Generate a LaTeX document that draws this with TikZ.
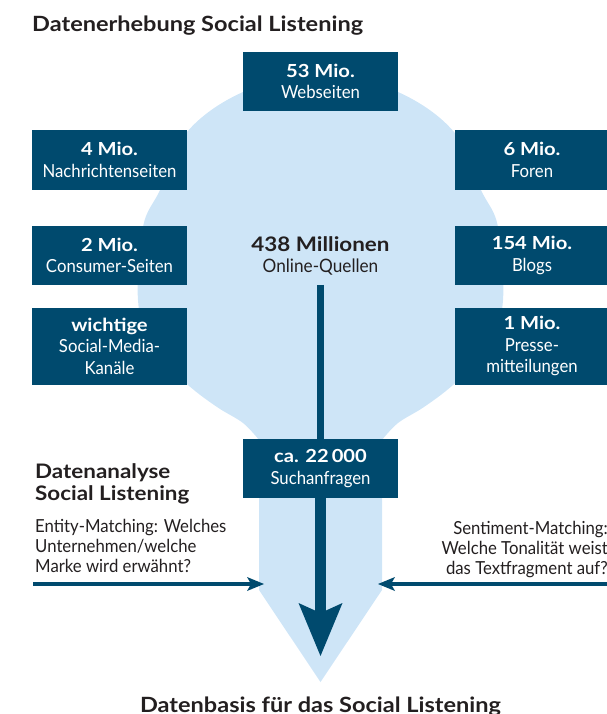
\documentclass[tikz,border=0pt]{standalone}
\usepackage{fontspec}
\setmainfont{Lato}[BoldFeatures={FakeStretch=1.12}]
\newfontfamily\schmal[FakeStretch=0.93]{Lato}
\usetikzlibrary{arrows.meta,positioning}
\definecolor{Dunkelblau}{RGB}{0,74,110}
\definecolor{Hellblau}{RGB}{206,229,247}
\definecolor{Schwarz}{RGB}{35,31,32}
\newcommand{\zahl}[1]{{\normalfont\bfseries #1}}

\begin{document}
\begin{tikzpicture}[x=1pt,y=-1pt,every node/.style={inner sep=0pt},
  quelle/.style={fill=Dunkelblau,text=white,align=center,minimum width=155pt,minimum height=59pt,font=\schmal\fontsize{18}{21.5}\selectfont},
  titel/.style={text=Schwarz,font=\bfseries\fontsize{20}{22.5}\selectfont},
  fliesstext/.style={text=Schwarz,font=\schmal\fontsize{18}{20}\selectfont},
  pfeil/.style={draw=Dunkelblau,line width=4.5pt,-{Stealth[length=17pt,width=14pt,inset=4pt,line width=0pt]}}]
\useasboundingbox (0,0) rectangle (607,714);
\fill[Hellblau] (259,590) -- plot[smooth,tension=0.6] coordinates {(259,440) (243,423) (217,407) (188,385) (152,350) (138,300) (143,227) (160,190) (187,132) (243,92) (320.5,72) (398,92) (454,132) (481,190) (498,227) (503,300) (489,350) (453,385) (424,407) (398,423) (382,440)} -- (382,590) -- (320.5,682) -- cycle;
\node[titel,anchor=base west,font=\bfseries\fontsize{21}{22.5}\selectfont] (TitelErhebung) at (32,32) {Datenerhebung Social Listening};
\node[quelle] (Webseiten) at (320.5,81.3) {\zahl{53 Mio.}\\Webseiten};
\node[quelle] (Nachrichten) at (109.5,160) {\zahl{4 Mio.}\\Nachrichtenseiten};
\node[quelle] (Foren) at (532,160) {\zahl{6 Mio.}\\Foren};
\node[quelle] (Consumer) at (109.5,255.3) {\zahl{2 Mio.}\\Consumer-Seiten};
\node[quelle] (Blogs) at (532,255.3) {\zahl{154 Mio.}\\Blogs};
\node[quelle,minimum height=77pt] (SocialMedia) at (109.5,346) {\zahl{wichtige}\\Social-Media-\\Kanäle};
\node[quelle,minimum height=77pt] (Presse) at (532,346) {\zahl{1 Mio.}\\Presse-\\mitteilungen};
\node[quelle] (Suchanfragen) at (320.5,468.4) {\zahl{ca. 22\,000}\\Suchanfragen};
\node[text=Schwarz,align=center,anchor=north,font=\schmal\fontsize{18.5}{21}\selectfont] (OnlineQuellen) at (320.5,236) {{\normalfont\bfseries\fontsize{20}{21}\selectfont 438 Millionen}\\Online-Quellen};
\node[titel,align=left,anchor=north west] (AnalyseTitel) at (35,463) {Datenanalyse\\Social Listening};
\node[fliesstext,align=left,below right=15pt and 0pt of AnalyseTitel.south west] (EntityText) {Entity-Matching: Welches\\Unternehmen/welche\\Marke wird erwähnt?};
\node[fliesstext,align=right,anchor=north east] (SentimentText) at (608,521) {Sentiment-Matching:\\Welche Tonalität weist\\das Textfragment auf?};
\node[titel,anchor=base,font=\bfseries\fontsize{21}{22.5}\selectfont] (Datenbasis) at (320.5,712) {Datenbasis für das Social Listening};
\coordinate (EntityStart) at (33,584);
\coordinate (EntityZiel) at (264,584);
\coordinate (SentimentStart) at (607,584);
\coordinate (SentimentZiel) at (378,584);
\coordinate (Basis) at (320.5,656);
\draw[draw=Dunkelblau,line width=7.7pt,shorten <=10pt] (OnlineQuellen.south) -- (Suchanfragen.north);
\draw[draw=Dunkelblau,line width=10.5pt,-{Stealth[length=53pt,width=44pt,inset=10pt,line width=0pt]}] (Suchanfragen.south) -- (Basis);
\draw[pfeil] (EntityStart) -- (EntityZiel);
\draw[pfeil] (SentimentStart) -- (SentimentZiel);
\end{tikzpicture}
\end{document}
